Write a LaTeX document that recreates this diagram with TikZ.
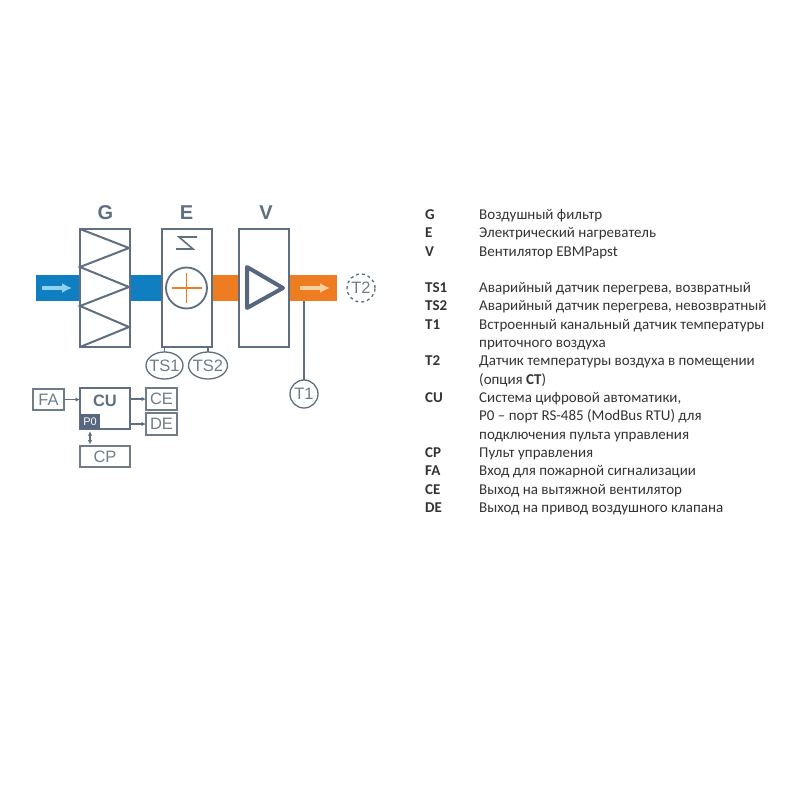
\documentclass[tikz,border=0pt]{standalone}
\usepackage{fontspec}
\setmainfont{Carlito}
\newfontfamily\schemefont{Liberation Sans}
\usepackage{xcolor}
\definecolor{linegrey}{HTML}{5F6F80}
\definecolor{labelgrey}{HTML}{6F7D8A}
\definecolor{fangrey}{HTML}{56677F}
\definecolor{ductblue}{HTML}{0F7FC2}
\definecolor{ductorange}{HTML}{EE7D22}
\definecolor{arrowblue}{HTML}{8FD3EE}
\definecolor{arroworange}{HTML}{F9CFA0}
\definecolor{legendtext}{HTML}{333333}
\usetikzlibrary{shapes.geometric,arrows.meta}
\tikzset{
  duct/.style={inner sep=0pt,outer sep=0pt,minimum height=25.5pt},
  unitbox/.style={draw=linegrey,line width=2pt,inner sep=0pt,outer sep=0pt,minimum width=50pt,minimum height=118pt},
  smallbox/.style={draw=labelgrey,line width=1.5pt,inner sep=0pt,outer sep=0pt,text=labelgrey,font=\schemefont\fontsize{16.5}{17}\selectfont},
  sensor/.style={draw=linegrey,line width=1.3pt,ellipse,inner sep=0pt,outer sep=0pt,text=labelgrey,font=\schemefont\fontsize{16.5}{17}\selectfont},
  unitlabel/.style={text=linegrey,inner sep=0pt,font=\schemefont\bfseries\fontsize{20}{20}\selectfont},
  signal/.style={draw=linegrey,line width=1.1pt,-{Latex[length=4.5pt,width=4.5pt]}},
  flow/.style={line width=3.4pt,-{Latex[length=10pt,width=10pt]}}
}
\begin{document}
\begin{tikzpicture}[x=1pt,y=-1pt]
  \useasboundingbox (0,0) rectangle (800,800);
  \node[duct,fill=ductblue,minimum width=44pt] (ductA) at (58,288) {};
  \node[duct,fill=ductblue,minimum width=32pt] (ductB) at (145,288) {};
  \node[duct,fill=ductorange,minimum width=27pt] (ductC) at (225.5,288) {};
  \node[duct,fill=ductorange,minimum width=48pt] (ductD) at (313,288) {};
  \node[unitbox] (unitG) at (104.5,288) {};
  \node[unitbox] (unitE) at (186.5,288) {};
  \node[unitbox] (unitV) at (264,288) {};
  \node[unitlabel] (labelG) at (105.5,213) {G};
  \node[unitlabel] (labelE) at (186.5,213) {E};
  \node[unitlabel] (labelV) at (266,213) {V};
  \draw[linegrey,line width=2pt] (80,229) -- (129,248) -- (80,267) -- (129,287) -- (80,306) -- (129,327) -- (80,347);
  \draw[linegrey,line width=1.6pt] (197,237) -- (179,237) -- (193,249) -- (176,249);
  \node[circle,draw=linegrey,line width=1.8pt,minimum size=41pt,inner sep=0pt] (heater) at (186.5,288) {};
  \draw[ductorange,line width=1.6pt] (heater.center) ++(-15,0) -- ++(30,0);
  \draw[ductorange,line width=1.6pt] (heater.center) ++(0,-15) -- ++(0,30);
  \draw[fangrey,line width=4pt,line join=round] (247,267) -- (283,288) -- (247,308) -- cycle;
  \coordinate (flowA) at (42,288);
  \coordinate (flowB) at (72,288);
  \coordinate (flowC) at (300,288);
  \coordinate (flowD) at (330,288);
  \draw[flow,arrowblue] (flowA) -- (flowB);
  \draw[flow,arroworange] (flowC) -- (flowD);
  \node[sensor,minimum width=37pt,minimum height=27pt] (TSa) at (164.5,365.5) {\makebox[0pt]{TS1}};
  \node[sensor,minimum width=39pt,minimum height=27pt] (TSb) at (208,365.5) {\makebox[0pt]{TS2}};
  \node[sensor,minimum width=28pt,minimum height=28pt] (Ta) at (304,394) {\makebox[0pt]{T1}};
  \node[sensor,dashed,minimum width=28pt,minimum height=28pt] (Tb) at (361,288) {\makebox[0pt]{T2}};
  \draw[linegrey,line width=1.3pt] (TSa) -- (TSa |- unitE.south);
  \draw[linegrey,line width=1.3pt] (TSb) -- (TSb |- unitE.south);
  \draw[linegrey,line width=1.6pt] (Ta) -- (Ta |- ductD.south);
  \node[smallbox,minimum width=31pt,minimum height=21pt] (FA) at (48.5,399.5) {FA};
  \node[smallbox,draw=linegrey,line width=1.8pt,minimum width=50pt,minimum height=41pt] (CU) at (105,408.5) {};
  \node[unitlabel,font=\schemefont\bfseries\fontsize{16.5}{17}\selectfont] (labelCU) at (105,401) {CU};
  \node[fill=fangrey,text=white,inner sep=0pt,minimum width=20pt,minimum height=15pt,font=\schemefont\fontsize{11}{11}\selectfont] (P0) at (90,421.5) {P0};
  \node[smallbox,minimum width=31pt,minimum height=22pt] (CE) at (161.5,399) {CE};
  \node[smallbox,minimum width=31pt,minimum height=22pt] (DE) at (161.5,424) {DE};
  \node[smallbox,minimum width=50pt,minimum height=21pt] (CP) at (105,456.5) {CP};
  \draw[signal] (FA) -- (FA -| CU.west);
  \draw[signal] (CU.east |- CE) -- (CE);
  \draw[signal] (CU.east |- DE) -- (DE);
  \draw[signal,{Latex[length=4.5pt,width=4.5pt]}-{Latex[length=4.5pt,width=4.5pt]},shorten <=2pt,shorten >=1.5pt] (P0.south) -- (P0.south |- CP.north);
  \foreach \i/\y/\k/\t in {
    1/219/G/{Воздушный фильтр},
    2/237.5/E/{Электрический нагреватель},
    3/256/V/{Вентилятор EBMPapst},
    4/292/TS1/{Аварийный датчик перегрева, возвратный},
    5/310.5/TS2/{Аварийный датчик перегрева, невозвратный},
    6/329/T1/{Встроенный канальный датчик температуры},
    7/347/{}/{приточного воздуха},
    8/365.5/T2/{Датчик температуры воздуха в помещении},
    9/384/{}/{(опция \textbf{CT})},
    10/402/CU/{Система цифровой автоматики,},
    11/420.5/{}/{P0 – порт RS-485 (ModBus RTU) для},
    12/439/{}/{подключения пульта управления},
    13/457/CP/{Пульт управления},
    14/475.5/FA/{Вход для пожарной сигнализации},
    15/494/CE/{Выход на вытяжной вентилятор},
    16/512.5/DE/{Выход на привод воздушного клапана}} {
    \node[anchor=base west,inner sep=0pt,text=legendtext,font=\fontsize{15}{15}\selectfont\bfseries] (key\i) at (425,\y) {\k};
    \node[anchor=base west,inner sep=0pt,text=legendtext,font=\fontsize{15}{15}\selectfont] (text\i) at (479,\y) {\t};
  }
\end{tikzpicture}
\end{document}
